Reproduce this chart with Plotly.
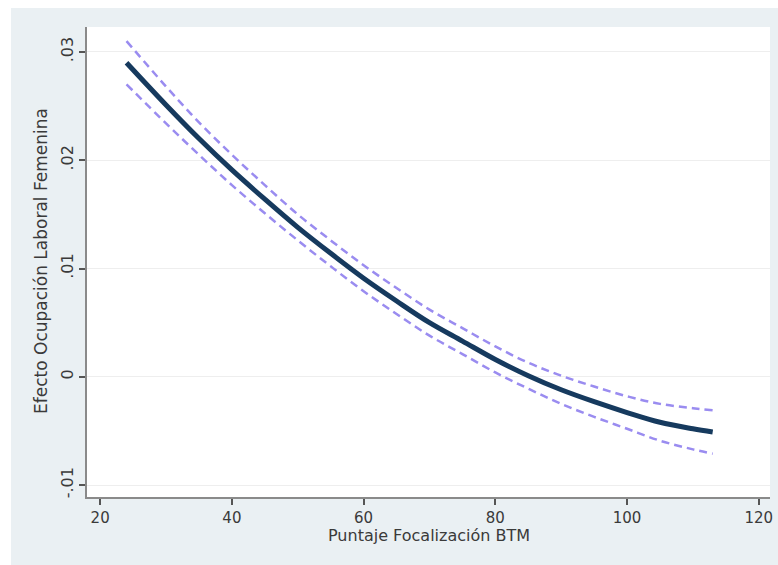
import plotly.graph_objects as go

# Values
x_vals = [24, 30, 35, 40, 45, 50, 55, 60, 65, 70, 75, 80, 85, 90, 95, 100, 105, 110, 113]
effect = [0.0290, 0.0251, 0.0220, 0.0191, 0.0164, 0.0138, 0.0114, 0.0091, 0.0070, 0.0050,
          0.0033, 0.0016, 0.0001, -0.0012, -0.0023, -0.0033, -0.0042, -0.0048, -0.0051]
upper = [0.0310, 0.0268, 0.0235, 0.0205, 0.0177, 0.0150, 0.0126, 0.0103, 0.0082, 0.0062,
         0.0045, 0.0028, 0.0013, 0.0001, -0.0009, -0.0018, -0.0025, -0.0029, -0.0031]
lower = [0.0270, 0.0234, 0.0205, 0.0177, 0.0151, 0.0126, 0.0102, 0.0079, 0.0058, 0.0038,
         0.0021, 0.0004, -0.0011, -0.0025, -0.0037, -0.0048, -0.0059, -0.0067, -0.0071]

x_ticks = [20, 40, 60, 80, 100, 120]
y_ticks = [-0.01, 0, 0.01, 0.02, 0.03]
y_tick_text = ["-.01", "0", ".01", ".02", ".03"]

x_title = "Puntaje Focalización BTM"
y_title = "Efecto Ocupación Laboral Femenina"

W, H = 778, 565
L, R, T, B = 87, 8, 27, 68
pw = W - L - R
ph = H - T - B
BG = "#eaf0f3"
FONT = "DejaVu Sans, Verdana, sans-serif"
TXT = "#3a3a3a"


def px_to_paper(px, py):
    return (px - L) / pw, (H - B - py) / ph


fig = go.Figure()
band_style = dict(color="#9a8cf0", width=2.5, dash="8px,5px")
fig.add_trace(go.Scatter(x=x_vals, y=upper, mode="lines", line=band_style,
                         line_shape="spline", showlegend=False, hoverinfo="skip"))
fig.add_trace(go.Scatter(x=x_vals, y=lower, mode="lines", line=band_style,
                         line_shape="spline", showlegend=False, hoverinfo="skip"))
fig.add_trace(go.Scatter(x=x_vals, y=effect, mode="lines",
                         line=dict(color="#163a5e", width=5), line_shape="spline",
                         showlegend=False))

# white strips at the left and top edge of the image (outside the grey frame)
x0, y_top = px_to_paper(0, 0)
x1, y8 = px_to_paper(11, 8)
_, y_bot = px_to_paper(0, H)
fig.add_shape(type="rect", xref="paper", yref="paper",
              x0=x0, x1=x1, y0=y_bot, y1=y_top,
              fillcolor="white", line_width=0, layer="below")
fig.add_shape(type="rect", xref="paper", yref="paper",
              x0=x0, x1=(W - L) / pw, y0=y8, y1=y_top,
              fillcolor="white", line_width=0, layer="below")

# axis titles
tx, ty = px_to_paper(429, 535)
fig.add_annotation(text=x_title, xref="paper", yref="paper", x=tx, y=ty,
                   xanchor="center", yanchor="middle", showarrow=False,
                   font=dict(family=FONT, size=16, color=TXT))
tx, ty = px_to_paper(41, 261)
fig.add_annotation(text=y_title, xref="paper", yref="paper", x=tx, y=ty,
                   xanchor="center", yanchor="middle", showarrow=False, textangle=-90,
                   font=dict(family=FONT, size=17, color=TXT))

fig.update_layout(
    width=W, height=H,
    margin=dict(l=L, r=R, t=T, b=B, autoexpand=False),
    paper_bgcolor=BG,
    plot_bgcolor="white",
    font=dict(family=FONT, size=15, color=TXT),
    xaxis=dict(
        range=[18.0, 121.7], tickvals=x_ticks, showgrid=False, zeroline=False,
        automargin=False,
        showline=True, linecolor="#8a8a8a", linewidth=1.5,
        ticks="outside", ticklen=6, tickcolor="#555555", tickwidth=1.5,
        tickfont=dict(family=FONT, size=15, color=TXT),
    ),
    yaxis=dict(
        range=[-0.0111, 0.0323], tickvals=y_ticks, ticktext=y_tick_text,
        automargin=False,
        tickangle=-90, showgrid=True, gridcolor="#eeeeee", gridwidth=1,
        zeroline=False, showline=True, linecolor="#8a8a8a", linewidth=1.5,
        ticks="outside", ticklen=6, tickcolor="#555555", tickwidth=1.5,
        tickfont=dict(family=FONT, size=16, color=TXT),
    ),
)

fig.write_html("out.html",
               config={"displayModeBar": False},
               post_script="document.body.style.margin='0';document.body.style.overflow='hidden';")
